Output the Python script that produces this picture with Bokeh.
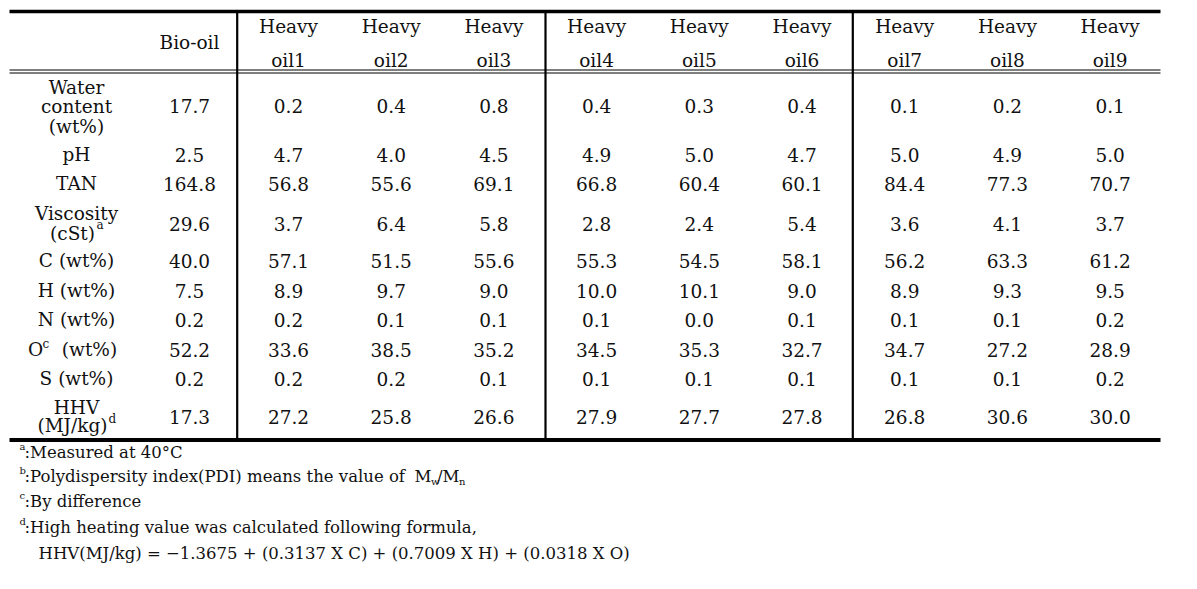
from bokeh.plotting import figure
from bokeh.models import Range1d, ColumnDataSource
from bokeh.embed import file_html
from bokeh.resources import INLINE
from bokeh.core.properties import value

# ---------------- data ----------------
columns = ["Bio-oil", "Heavy oil1", "Heavy oil2", "Heavy oil3", "Heavy oil4",
           "Heavy oil5", "Heavy oil6", "Heavy oil7", "Heavy oil8", "Heavy oil9"]
row_labels = ["Water content (wt%)", "pH", "TAN", "Viscosity (cSt)", "C (wt%)",
              "H (wt%)", "N (wt%)", "O (wt%)", "S (wt%)", "HHV (MJ/kg)"]
water = [17.7, 0.2, 0.4, 0.8, 0.4, 0.3, 0.4, 0.1, 0.2, 0.1]
ph = [2.5, 4.7, 4.0, 4.5, 4.9, 5.0, 4.7, 5.0, 4.9, 5.0]
tan = [164.8, 56.8, 55.6, 69.1, 66.8, 60.4, 60.1, 84.4, 77.3, 70.7]
viscosity = [29.6, 3.7, 6.4, 5.8, 2.8, 2.4, 5.4, 3.6, 4.1, 3.7]
carbon = [40.0, 57.1, 51.5, 55.6, 55.3, 54.5, 58.1, 56.2, 63.3, 61.2]
hydrogen = [7.5, 8.9, 9.7, 9.0, 10.0, 10.1, 9.0, 8.9, 9.3, 9.5]
nitrogen = [0.2, 0.2, 0.1, 0.1, 0.1, 0.0, 0.1, 0.1, 0.1, 0.2]
oxygen = [52.2, 33.6, 38.5, 35.2, 34.5, 35.3, 32.7, 34.7, 27.2, 28.9]
sulfur = [0.2, 0.2, 0.2, 0.1, 0.1, 0.1, 0.1, 0.1, 0.1, 0.2]
hhv = [17.3, 27.2, 25.8, 26.6, 27.9, 27.7, 27.8, 26.8, 30.6, 30.0]
footnotes = [("a", ":Measured at 40\u00b0C"),
             ("b", ":Polydispersity index(PDI) means the value of"),
             ("c", ":By difference"),
             ("d", ":High heating value was calculated following formula,")]
formula = "HHV(MJ/kg) = \u22121.3675 + (0.3137 X C) + (0.7009 X H) + (0.0318 X O)"

series = [water, ph, tan, viscosity, carbon, hydrogen, nitrogen, oxygen, sulfur, hhv]

# ---------------- layout ----------------
W, H = 1181, 573
FONT = value("DejaVu Serif")
INK = "#111111"
FS = "18.5px"
FFS = "16.5px"

p = figure(width=W, height=H, output_backend="svg", toolbar_location=None,
           x_range=Range1d(0, W), y_range=Range1d(H, 0),
           x_axis_location=None, y_axis_location=None, min_border=0)
p.grid.visible = False
p.outline_line_color = None
p.background_fill_color = "white"
p.border_fill_color = "white"

col_x = [189] + [288 + 102.7 * i for i in range(9)]
label_x = 76
value_y = [105, 154, 183, 223, 260, 290, 319, 349, 378, 416]

# rules
p.segment(x0=[9], x1=[1160], y0=[11], y1=[11], line_width=3.3, line_color="black")
p.segment(x0=[9, 9], x1=[1160, 1160], y0=[69.5, 72.5], y1=[69.5, 72.5],
          line_width=1.2, line_color="black")
p.segment(x0=[9], x1=[1160], y0=[439.5], y1=[439.5], line_width=4, line_color="black")
p.segment(x0=[236.7, 545, 852.3], x1=[236.7, 545, 852.3], y0=[12] * 3, y1=[438] * 3,
          line_width=2.2, line_color="black")

def txt(xs, ys, texts, size=FS, align="center", font=FONT, baseline="middle"):
    src = ColumnDataSource(dict(x=xs, y=ys, t=texts))
    p.text(x="x", y="y", text="t", source=src, text_font=font,
           text_font_size=size, text_align=align, text_baseline=baseline,
           text_color=INK)

# header
hx, hy, ht = [], [], []
for name, x in zip(columns, col_x):
    parts = name.split(" ")
    if len(parts) == 1:
        hx.append(x); hy.append(42); ht.append(parts[0])
    else:
        hx += [x, x]; hy += [26, 60]; ht += parts
txt(hx, hy, ht)

# row labels
lx, ly, lt = [], [], []
label_lines = {
    0: (["Water", "content", "(wt%)"], [87, 106, 126]),
    3: (["Viscosity", "(cSt)"], [213, 233]),
    9: (["HHV", "(MJ/kg)"], [407, 425]),
}
for i, lab in enumerate(row_labels):
    if i in label_lines:
        lines, ys = label_lines[i]
        for line, yy in zip(lines, ys):
            lx.append(label_x - (4 if line in ("(cSt)", "(MJ/kg)") else 0))
            ly.append(yy); lt.append(line)
    elif i == 7:
        continue
    else:
        lx.append(label_x); ly.append(value_y[i]); lt.append(lab)
txt(lx, ly, lt)
# O^c (wt%)
txt([35], [value_y[7]], ["O"])
txt([89], [value_y[7]], ["(wt%)"])
txt([42, 96, 108], [343, 224, 418], ["c", "a", "d"], size="12px", align="left")

# values
vx, vy, vt = [], [], []
for vals, yy in zip(series, value_y):
    for v, x in zip(vals, col_x):
        vx.append(x); vy.append(yy); vt.append(f"{v:.1f}")
txt(vx, vy, vt)

# footnotes
fy = [452, 476, 501, 527]
txt([19] * 4, [y - 6 for y in fy], [f[0] for f in footnotes], size="10px", align="left")
txt([24] * 4, fy, [f[1] for f in footnotes], size=FFS, align="left")
# M_w / M_n
txt([414, 436.5], [476, 476], ["M", "/M"], size=FFS, align="left")
txt([430.5, 458.5], [481, 481], ["w", "n"], size="10px", align="left")
txt([38], [553], [formula], size=FFS, align="left")

open("out.html", "w").write(file_html(p, INLINE))
